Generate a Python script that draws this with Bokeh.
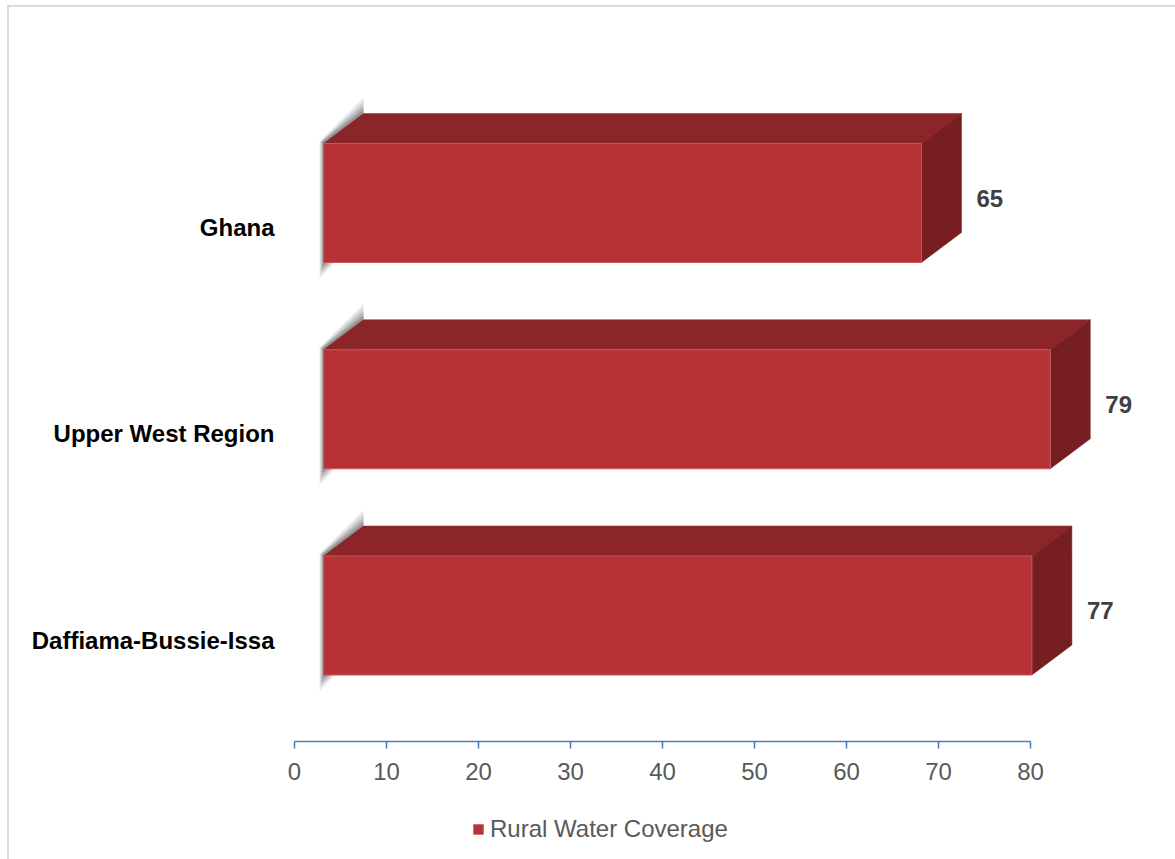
import numpy as np
from bokeh.plotting import figure
from bokeh.models import Range1d, FixedTicker, Legend, LegendItem, ColumnDataSource
from bokeh.embed import file_html
from bokeh.resources import INLINE
from bokeh.core.properties import value

# ---- data ----
categories = ["Ghana", "Upper West Region", "Daffiama-Bussie-Issa"]
coverage = [65, 79, 77]
x_ticks = [0, 10, 20, 30, 40, 50, 60, 70, 80]
series_name = "Rural Water Coverage"

# ---- geometry / styles ----
FW, FH = 1175, 859
AXIS_PX = 741        # vertical pixel of the value axis
PXX = 9.2            # px per x unit
ROW = 206.25         # px per category
x_start = -294 / PXX
x_end = x_start + FW / PXX
y_top = -202.5 / ROW
y_bot = y_top + FH / ROW

def ux(px):
    return px / PXX

def uy(px):
    return px / ROW

X0 = ux(29)          # floor offset of the front face
BH = uy(119)         # bar front height
DX = ux(40)          # depth dx
DY = uy(30)          # depth dy (upwards)

FONT = "Liberation Sans"
FRONT = "#B73236"
TOP = "#8B2528"
SIDE = "#761E21"
GRID_GREY = "#D9D9D9"

p = figure(frame_width=FW, frame_height=FH, output_backend="svg", toolbar_location=None,
           x_range=Range1d(x_start, x_end), y_range=Range1d(y_bot, y_top),
           y_axis_location=None,
           min_border_left=0, min_border_right=0, min_border_top=0,
           min_border_bottom=0)
p.grid.visible = False
p.outline_line_color = None
p.background_fill_color = None
p.border_fill_color = None
# chart-area border (left and top edges), painted behind the transparent canvas
g = f"linear-gradient({GRID_GREY},{GRID_GREY})"
p.styles = {"background": f"{g} 7px 5px / 2px 100% no-repeat, {g} 7px 5px / 100% 2px no-repeat, #ffffff"}

ypos = list(range(len(categories)))

# shadows
for k, a in [(1.0, 0.12), (0.75, 0.16), (0.5, 0.22), (0.25, 0.3)]:
    xs, ys = [], []
    for i, v in zip(ypos, coverage):
        top = i - BH / 2
        bot = i + BH / 2
        xs.append([X0 - ux(4 * k), X0 + DX, X0 + DX, X0 - ux(4 * k)])
        ys.append([top - uy(2), top - DY - uy(16 * k), bot - DY, bot + uy(16 * k)])
    p.patches(xs, ys, fill_color="#505050", fill_alpha=a, line_color=None)

# top faces
xs, ys = [], []
for i, v in zip(ypos, coverage):
    top = i - BH / 2
    xs.append([X0, X0 + v, X0 + v + DX, X0 + DX])
    ys.append([top, top, top - DY, top - DY])
p.patches(xs, ys, fill_color=TOP, line_color=TOP, line_width=0.5)

# side faces
xs, ys = [], []
for i, v in zip(ypos, coverage):
    top = i - BH / 2
    bot = i + BH / 2
    xs.append([X0 + v, X0 + v + DX, X0 + v + DX, X0 + v])
    ys.append([top, top - DY, bot - DY, bot])
p.patches(xs, ys, fill_color=SIDE, line_color=SIDE, line_width=0.5)

# front faces
src = ColumnDataSource(dict(y=ypos, right=[X0 + v for v in coverage], v=coverage,
                            cat=categories,
                            lx=[X0 + v + DX + ux(15) for v in coverage],
                            ly=[i - uy(5) for i in ypos],
                            cy=[i + uy(24.5) for i in ypos],
                            labels=[str(v) for v in coverage]))
front = p.hbar(y="y", left=X0, right="right", height=BH, source=src,
               fill_color=FRONT, line_color="#C8575B", line_width=1)

# category labels
p.text(x=ux(-20), y="cy", text="cat", source=src, text_align="right",
       text_baseline="middle", text_font=value(FONT), text_font_style="bold",
       text_font_size="24px", text_color="#000000")

# value labels
p.text(x="lx", y="ly", text="labels", source=src, text_align="left",
       text_baseline="middle", text_font=value(FONT), text_font_style="bold",
       text_font_size="24px", text_color="#404040")

# x axis, fixed inside the frame
ax = p.xaxis[0]
ax.fixed_location = y_top + uy(AXIS_PX)
ax.ticker = FixedTicker(ticks=x_ticks)
ax.bounds = (0, 80)
ax.axis_line_color = "#4A7EBB"
ax.axis_line_width = 1.5
ax.major_tick_line_color = "#4A7EBB"
ax.major_tick_line_width = 1.5
ax.major_tick_in = 0
ax.major_tick_out = 7
ax.minor_tick_line_color = None
ax.major_label_text_font = FONT
ax.major_label_text_font_size = "24px"
ax.major_label_text_color = "#595959"
ax.major_label_standoff = 14

legend = Legend(items=[LegendItem(label=series_name, renderers=[front])],
                location=(472, 16), orientation="horizontal",
                label_text_font=FONT, label_text_font_size="24px",
                label_text_color="#595959", glyph_width=12, glyph_height=12,
                label_standoff=6, border_line_color=None,
                background_fill_alpha=0, padding=0, margin=0)
p.add_layout(legend, "center")

open("out.html", "w").write(file_html(p, INLINE))
